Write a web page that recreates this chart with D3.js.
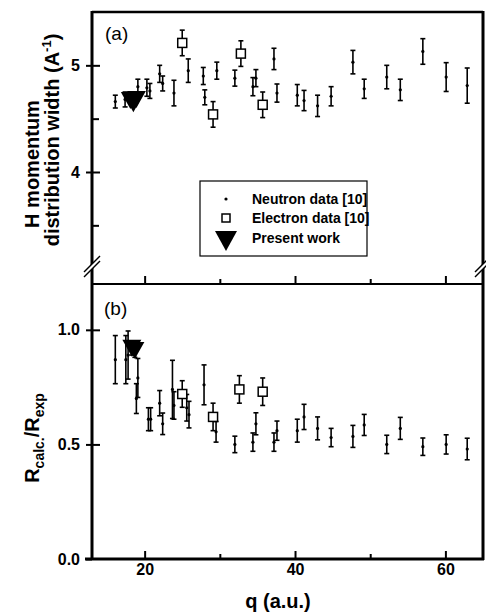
<!DOCTYPE html>
<html lang="en">
<head>
<meta charset="utf-8">
<title>H momentum width</title>
<script src="https://d3js.org/d3.v7.min.js"></script>
<style>
  body { margin: 0; background: #fff; }
  svg { font-family: "Liberation Sans", Arial, sans-serif; }
  .tick text { font-size: 16px; font-weight: bold; fill: #000; }
  .axis path { display: none; }
  .axis line { stroke: #000; stroke-width: 2; }
  .lbl { font-weight: bold; fill: #000; }
</style>
</head>
<body>
<div id="chart"></div>
<script>
// ---- data ----
// panel (a): H momentum distribution width
var neutronTopQ   = [16.1, 17.4, 19.1, 20.3, 20.7, 22.0, 22.4, 23.9, 25.8, 27.8, 28.0, 29.6, 32.0, 34.4, 34.8, 37.2, 37.6, 40.3, 41.2, 43.0, 44.8, 47.7, 49.2, 52.2, 54.0, 57.0, 60.1, 62.9];
var neutronTopVal = [4.66, 4.68, 4.80, 4.79, 4.76, 4.92, 4.83, 4.74, 4.95, 4.90, 4.70, 4.95, 4.88, 4.80, 4.88, 5.06, 4.74, 4.72, 4.67, 4.62, 4.71, 5.03, 4.78, 4.89, 4.77, 5.13, 4.89, 4.81];
var neutronTopErr = [0.06, 0.07, 0.07, 0.08, 0.07, 0.08, 0.07, 0.12, 0.11, 0.08, 0.07, 0.08, 0.075, 0.085, 0.08, 0.10, 0.085, 0.10, 0.095, 0.10, 0.09, 0.11, 0.09, 0.11, 0.10, 0.12, 0.135, 0.165];

var electronTopQ   = [25.0, 29.1, 32.8, 35.7];
var electronTopVal = [5.21, 4.54, 5.11, 4.63];
var electronTopErr = [0.12, 0.12, 0.12, 0.12];

var presentTopQ   = [18.1, 18.5, 18.9];
var presentTopVal = [4.67, 4.64, 4.68];

// panel (b): R calc / R exp
var neutronBotQ   = [16.1, 17.5, 17.8, 18.9, 19.1, 20.5, 20.8, 22.0, 22.4, 23.7, 23.9, 25.6, 25.9, 27.9, 29.5, 32.0, 34.4, 34.8, 37.2, 37.6, 40.3, 41.2, 43.0, 44.8, 47.7, 49.2, 52.2, 54.0, 57.0, 60.1, 62.9];
var neutronBotVal = [0.87, 0.87, 0.89, 0.70, 0.79, 0.61, 0.61, 0.68, 0.59, 0.74, 0.67, 0.66, 0.63, 0.76, 0.555, 0.50, 0.51, 0.59, 0.51, 0.56, 0.56, 0.62, 0.57, 0.53, 0.535, 0.585, 0.50, 0.57, 0.49, 0.50, 0.48];
var neutronBotErr = [0.105, 0.105, 0.105, 0.065, 0.085, 0.05, 0.05, 0.055, 0.047, 0.127, 0.06, 0.058, 0.058, 0.087, 0.045, 0.036, 0.04, 0.048, 0.04, 0.042, 0.05, 0.055, 0.05, 0.04, 0.048, 0.046, 0.04, 0.048, 0.038, 0.042, 0.047];

var electronBotQ   = [25.0, 29.1, 32.6, 35.7];
var electronBotVal = [0.72, 0.62, 0.74, 0.73];
var electronBotErr = [0.058, 0.06, 0.06, 0.06];

var presentBotQ   = [18.3, 18.7];
var presentBotVal = [0.92, 0.91];
var presentBotErr = [0.03, 0.03];

var legendLabels = ["Neutron data [10]", "Electron data [10]", "Present work"];

// ---- layout ----
var W = 486, H = 615;
var pLeft = 92, pRight = 483, pTop = 12, pMid = 284, pBottom = 559;

var svg = d3.select("#chart").append("svg")
    .attr("width", W).attr("height", H);

var x = d3.scaleLinear().domain([13, 65]).range([pLeft, pRight]);
var yTop = d3.scaleLinear().domain([2.95, 5.5]).range([pMid, pTop]);
var yBot = d3.scaleLinear().domain([0, 1.2]).range([pBottom, pMid]);

function zip(q, v, e) {
  return q.map(function(d, i) { return { q: d, v: v[i], e: e ? e[i] : 0 }; });
}

function triPath(cx, cy, w, h) {
  return "M" + (cx - w / 2) + "," + (cy - h / 2) + "L" + (cx + w / 2) + "," + (cy - h / 2) +
         "L" + cx + "," + (cy + h / 2) + "Z";
}

function errorBars(g, data, y, cap) {
  var eb = g.append("g").selectAll("g").data(data).enter().append("g")
      .attr("stroke", "#000").attr("stroke-width", 1.6);
  eb.append("line")
      .attr("x1", function(d) { return x(d.q); }).attr("x2", function(d) { return x(d.q); })
      .attr("y1", function(d) { return y(d.v - d.e); }).attr("y2", function(d) { return y(d.v + d.e); });
  eb.append("line")
      .attr("x1", function(d) { return x(d.q) - cap; }).attr("x2", function(d) { return x(d.q) + cap; })
      .attr("y1", function(d) { return y(d.v + d.e); }).attr("y2", function(d) { return y(d.v + d.e); });
  eb.append("line")
      .attr("x1", function(d) { return x(d.q) - cap; }).attr("x2", function(d) { return x(d.q) + cap; })
      .attr("y1", function(d) { return y(d.v - d.e); }).attr("y2", function(d) { return y(d.v - d.e); });
}

function drawPanel(y, neutron, electron, present) {
  var g = svg.append("g");
  // neutron
  errorBars(g, neutron, y, 2.5);
  g.append("g").selectAll("circle").data(neutron).enter().append("circle")
      .attr("cx", function(d) { return x(d.q); })
      .attr("cy", function(d) { return y(d.v); })
      .attr("r", 1.6).attr("fill", "#000");
  // electron
  errorBars(g, electron, y, 2.5);
  g.append("g").selectAll("rect").data(electron).enter().append("rect")
      .attr("x", function(d) { return x(d.q) - 4.5; })
      .attr("y", function(d) { return y(d.v) - 4.5; })
      .attr("width", 9).attr("height", 9)
      .attr("fill", "#fff").attr("stroke", "#000").attr("stroke-width", 1.5);
  // present work
  errorBars(g, present, y, 2.5);
  g.append("g").selectAll("path").data(present).enter().append("path")
      .attr("d", function(d) { return triPath(x(d.q), y(d.v), 19, 17); })
      .attr("fill", "#000");
}

drawPanel(yTop, zip(neutronTopQ, neutronTopVal, neutronTopErr),
          zip(electronTopQ, electronTopVal, electronTopErr),
          zip(presentTopQ, presentTopVal, null));
drawPanel(yBot, zip(neutronBotQ, neutronBotVal, neutronBotErr),
          zip(electronBotQ, electronBotVal, electronBotErr),
          zip(presentBotQ, presentBotVal, presentBotErr));

// ---- frame ----
var frame = svg.append("g").attr("stroke", "#000").attr("fill", "none");
frame.append("line").attr("x1", pLeft).attr("x2", pRight).attr("y1", pTop).attr("y2", pTop).attr("stroke-width", 2.5);
frame.append("line").attr("x1", pLeft).attr("x2", pRight).attr("y1", pMid).attr("y2", pMid).attr("stroke-width", 2);
frame.append("line").attr("x1", pLeft - 7).attr("x2", pRight + 1).attr("y1", pBottom).attr("y2", pBottom).attr("stroke-width", 3);
frame.append("line").attr("x1", pLeft).attr("x2", pLeft).attr("y1", pTop - 1).attr("y2", pBottom).attr("stroke-width", 3);
frame.append("line").attr("x1", pRight).attr("x2", pRight).attr("y1", pTop - 1).attr("y2", pBottom + 1).attr("stroke-width", 3);

// ---- axes ----
// x ticks (inward) on the panel separator and on the bottom
[pMid, pBottom].forEach(function(yy, i) {
  svg.append("g").attr("class", "axis").attr("transform", "translate(0," + yy + ")")
      .call(d3.axisBottom(x).tickValues([20, 40, 60]).tickSize(-8).tickPadding(5)
      .tickFormat(i === 1 ? d3.format("d") : ""));
  svg.append("g").attr("class", "axis").attr("transform", "translate(0," + yy + ")")
      .call(d3.axisBottom(x).tickValues([30, 50]).tickSize(-5).tickFormat(""));
});

// y axis, panel (a)
svg.append("g").attr("class", "axis").attr("transform", "translate(" + pLeft + ",0)")
    .call(d3.axisLeft(yTop).tickValues([4, 5]).tickSize(6).tickPadding(6).tickFormat(d3.format("d")));
svg.append("g").attr("class", "axis").attr("transform", "translate(" + pLeft + ",0)")
    .call(d3.axisLeft(yTop).tickValues([4, 5]).tickSize(-8).tickFormat(""));
svg.append("g").attr("class", "axis").attr("transform", "translate(" + pLeft + ",0)")
    .call(d3.axisLeft(yTop).tickValues([3.5, 4.5]).tickSize(-7).tickFormat(""));

// y axis, panel (b)
svg.append("g").attr("class", "axis").attr("transform", "translate(" + pLeft + ",0)")
    .call(d3.axisLeft(yBot).tickValues([0, 0.5, 1.0]).tickSize(6).tickPadding(6).tickFormat(d3.format(".1f")));
svg.append("g").attr("class", "axis").attr("transform", "translate(" + pLeft + ",0)")
    .call(d3.axisLeft(yBot).tickValues([0.5, 1.0]).tickSize(-8).tickFormat(""));

// axis break marks
var breakY = 266;
[pLeft, pRight].forEach(function(bx) {
  var b = svg.append("g");
  b.append("polygon")
      .attr("points", [[bx - 8, breakY + 6], [bx + 8, breakY - 10], [bx + 8, breakY - 5], [bx - 8, breakY + 11]].join(" "))
      .attr("fill", "#fff");
  b.append("line").attr("x1", bx - 8).attr("y1", breakY + 6).attr("x2", bx + 8).attr("y2", breakY - 10)
      .attr("stroke", "#000").attr("stroke-width", 1.5);
  b.append("line").attr("x1", bx - 8).attr("y1", breakY + 11).attr("x2", bx + 8).attr("y2", breakY - 5)
      .attr("stroke", "#000").attr("stroke-width", 1.5);
});

// ---- panel labels ----
svg.append("text").attr("x", 105).attr("y", 40).attr("font-size", 19).text("(a)");
svg.append("text").attr("x", 104).attr("y", 315).attr("font-size", 19).text("(b)");

// ---- axis titles ----
svg.append("text").attr("class", "lbl").attr("font-size", 20).attr("text-anchor", "middle")
    .attr("transform", "translate(39,164) rotate(-90)").text("H momentum");
var t2 = svg.append("text").attr("class", "lbl").attr("font-size", 20).attr("text-anchor", "middle")
    .attr("transform", "translate(59,140) rotate(-90)");
t2.append("tspan").text("distribution width (A");
t2.append("tspan").attr("font-size", 13).attr("dy", -8).text("-1");
t2.append("tspan").attr("dy", 8).text(")");

var t3 = svg.append("text").attr("class", "lbl").attr("font-size", 20).attr("text-anchor", "middle")
    .attr("transform", "translate(39,438) rotate(-90)");
t3.append("tspan").text("R");
t3.append("tspan").attr("font-size", 14).attr("dy", 5).text("calc.");
t3.append("tspan").attr("dy", -5).text("/R");
t3.append("tspan").attr("font-size", 14).attr("dy", 5).text("exp");

svg.append("text").attr("class", "lbl").attr("font-size", 20).attr("text-anchor", "middle")
    .attr("x", 278).attr("y", 608).text("q (a.u.)");

// ---- legend ----
var lg = svg.append("g");
lg.append("rect").attr("x", 200).attr("y", 181).attr("width", 167).attr("height", 75)
    .attr("fill", "#fff").attr("stroke", "#000").attr("stroke-width", 1.2);
var rowY = [199, 218, 238];
lg.append("circle").attr("cx", 226).attr("cy", rowY[0]).attr("r", 1.6).attr("fill", "#000");
lg.append("rect").attr("x", 222).attr("y", rowY[1] - 4).attr("width", 8).attr("height", 8)
    .attr("fill", "#fff").attr("stroke", "#000").attr("stroke-width", 1.5);
lg.append("path").attr("d", triPath(226, rowY[2] + 3, 22, 20)).attr("fill", "#000");
lg.selectAll("text.leg").data(legendLabels).enter().append("text")
    .attr("class", "lbl leg").attr("font-size", 14)
    .attr("x", 252).attr("y", function(d, i) { return rowY[i] + 5; })
    .text(function(d) { return d; });
</script>
</body>
</html>
